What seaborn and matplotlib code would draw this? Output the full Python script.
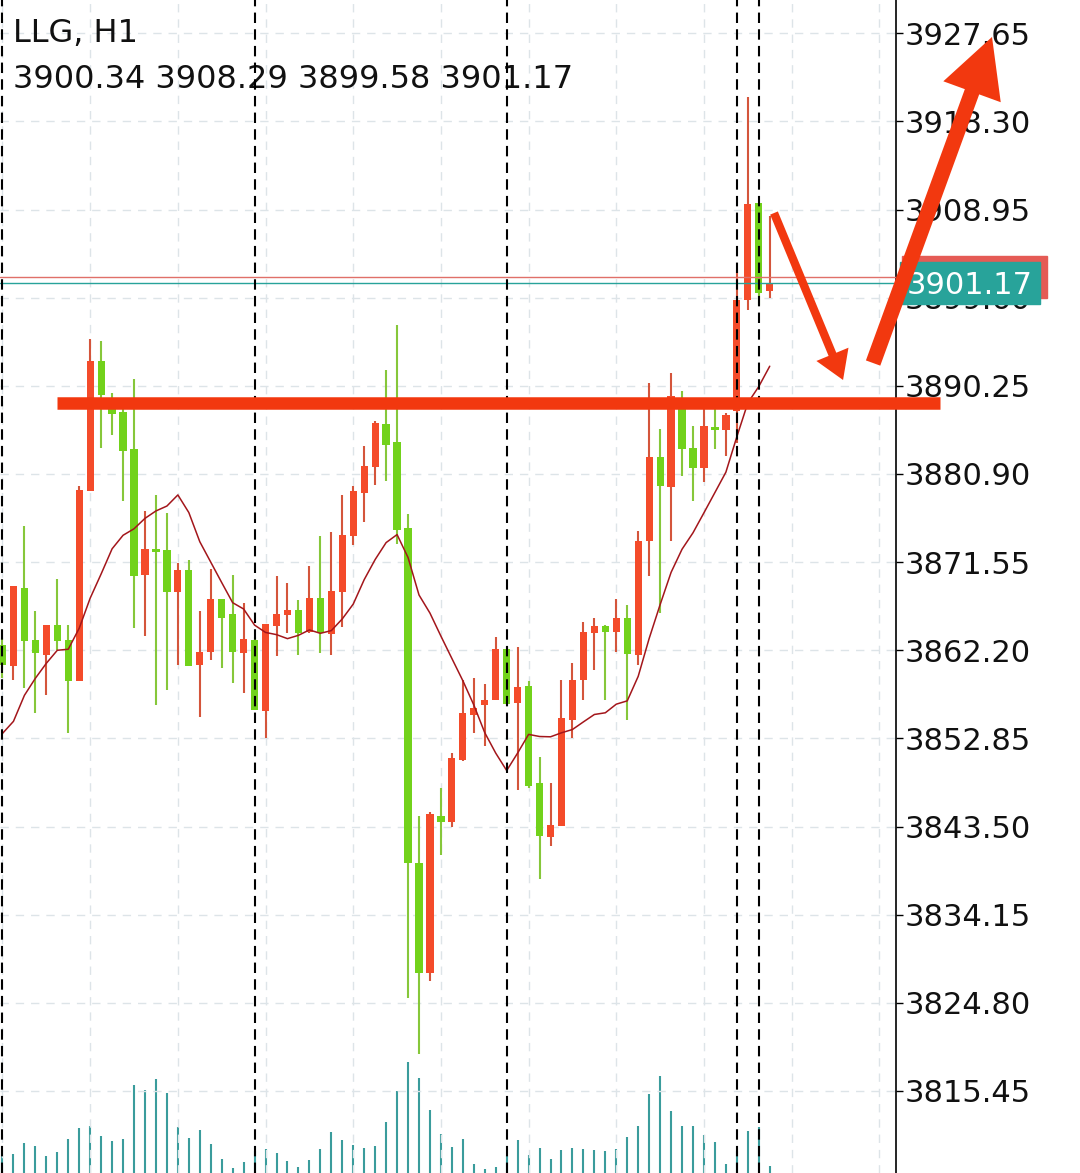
import numpy as np
import pandas as pd
import seaborn as sns
import matplotlib.pyplot as plt
import matplotlib.transforms as mtransforms
from matplotlib.patches import Rectangle

# LLG hourly candles
symbol = "LLG, H1"
opens = [3862.73, 3860.50, 3868.79, 3863.26, 3861.67, 3864.86, 3863.26, 3858.91, 3879.09, 3892.91,
         3888.13, 3887.49, 3883.56, 3870.17, 3872.93, 3872.83, 3868.36, 3870.70, 3860.61, 3861.99,
         3867.62, 3866.03, 3861.88, 3863.26, 3855.72, 3864.75, 3865.92, 3866.45, 3864.11, 3867.73,
         3863.90, 3868.36, 3874.31, 3878.88, 3881.64, 3886.21, 3884.30, 3875.16, 3839.68, 3827.99,
         3844.67, 3844.03, 3850.51, 3855.29, 3856.36, 3856.89, 3862.31, 3856.57, 3858.38, 3848.07,
         3842.44, 3843.61, 3854.76, 3859.01, 3864.01, 3864.75, 3864.11, 3865.60, 3861.67, 3873.78,
         3882.71, 3879.52, 3888.98, 3883.66, 3881.54, 3885.89, 3885.58, 3887.59, 3899.39, 3909.69,
         3900.34]
highs = [3863.48, 3869.00, 3875.38, 3866.34, 3864.86, 3869.74, 3864.86, 3879.63, 3895.24, 3895.03,
         3889.51, 3887.91, 3890.99, 3876.97, 3878.67, 3876.76, 3871.44, 3871.76, 3866.34, 3870.81,
         3867.62, 3870.17, 3867.19, 3863.58, 3864.96, 3870.06, 3869.32, 3867.51, 3871.13, 3874.31,
         3874.74, 3878.67, 3879.63, 3883.88, 3886.53, 3891.95, 3896.73, 3876.65, 3844.67, 3845.09,
         3847.64, 3851.26, 3859.01, 3859.23, 3858.59, 3863.58, 3862.52, 3862.52, 3858.91, 3850.83,
         3848.07, 3859.01, 3860.82, 3865.18, 3865.60, 3864.86, 3867.62, 3866.98, 3874.84, 3890.57,
         3885.68, 3891.63, 3889.72, 3886.00, 3888.66, 3887.91, 3887.38, 3902.58, 3920.85, 3909.69,
         3908.29]
lows = [3859.23, 3859.01, 3858.16, 3855.51, 3857.42, 3862.20, 3853.38, 3858.91, 3879.09, 3883.66,
        3885.04, 3878.03, 3864.54, 3863.69, 3856.36, 3857.95, 3860.61, 3860.50, 3855.08, 3861.14,
        3860.29, 3858.69, 3857.63, 3855.83, 3852.85, 3861.56, 3864.01, 3861.67, 3864.01, 3861.88,
        3861.67, 3864.64, 3873.36, 3875.80, 3879.73, 3880.16, 3873.46, 3825.33, 3819.38, 3827.14,
        3840.53, 3843.50, 3850.41, 3853.38, 3852.00, 3856.89, 3856.36, 3847.33, 3847.54, 3837.98,
        3841.48, 3843.61, 3852.85, 3856.89, 3860.08, 3856.89, 3861.99, 3854.76, 3860.61, 3870.06,
        3866.13, 3873.78, 3880.69, 3878.03, 3880.05, 3883.56, 3882.81, 3884.19, 3898.33, 3898.86,
        3899.58]
closes = [3860.61, 3869.00, 3863.16, 3861.88, 3864.86, 3863.16, 3858.91, 3879.20, 3892.91, 3889.29,
          3887.28, 3883.34, 3870.06, 3872.93, 3872.72, 3868.36, 3870.70, 3860.50, 3861.99, 3867.62,
          3865.60, 3861.99, 3863.37, 3855.83, 3864.96, 3866.03, 3866.45, 3864.01, 3867.73, 3864.01,
          3868.47, 3874.42, 3879.09, 3881.75, 3886.32, 3883.98, 3874.95, 3839.68, 3827.99, 3844.78,
          3844.03, 3850.73, 3855.51, 3856.04, 3856.89, 3862.31, 3856.46, 3858.27, 3847.75, 3842.54,
          3843.71, 3854.98, 3859.01, 3864.11, 3864.75, 3864.11, 3865.60, 3861.78, 3873.78, 3882.71,
          3879.63, 3889.19, 3883.56, 3881.54, 3886.00, 3885.58, 3887.17, 3899.39, 3909.59, 3900.13,
          3901.17]
volume = [52, 58, 91, 82, 52, 64, 103, 136, 142, 112,
          97, 103, 265, 250, 283, 241, 139, 106, 130, 88,
          43, 16, 33, 67, 73, 61, 37, 19, 40, 73,
          124, 100, 85, 76, 82, 154, 247, 334, 286, 190,
          118, 79, 103, 28, 13, 19, 52, 100, 55, 76,
          43, 70, 76, 73, 70, 67, 73, 109, 142, 238,
          292, 187, 142, 142, 115, 94, 28, 67, 127, 139,
          22]
# MA(10) for the first bars (earlier closes are off screen)
ma_head = [3853.38, 3854.66, 3857.42, 3859.23, 3860.82, 3862.20, 3862.31, 3864.54, 3867.73]

price_ticks = [3927.65, 3918.30, 3908.95, 3899.60, 3890.25, 3880.90, 3871.55,
               3862.20, 3852.85, 3843.50, 3834.15, 3824.80, 3815.45]
separators = [0, 23, 46, 67, 69]
bid = 3901.17
ask = 3901.81
support_level = 3888.43

red = "#F44B2A"
green = "#72D21B"
wick_red = "#D4553B"
wick_green = "#86C73A"
ma_color = "#A3161B"
mark_red = "#F2380F"
teal = "#28A39A"
vol_color = "#3A9C9C"

df = pd.DataFrame({"open": opens, "high": highs, "low": lows,
                   "close": closes, "volume": volume})
df["idx"] = np.arange(len(df))
df["ma"] = df["close"].rolling(10).mean()
df.loc[:len(ma_head) - 1, "ma"] = ma_head
up = df["close"] >= df["open"]
raw_h = (df["close"] - df["open"]).abs()
body_h = raw_h.clip(lower=0.3)
body_lo = np.minimum(df["open"], df["close"]) - (body_h - raw_h) / 2

sns.set_theme(style="white")
plt.rcParams['font.family'] = ['DejaVu Sans']

fig = plt.figure(figsize=(10.8, 11.73), dpi=100)
fig.patch.set_facecolor("white")
rect = [0, 0, 896 / 1080, 1]
ax_vol = fig.add_axes(rect)
ax = fig.add_axes(rect, sharex=ax_vol)
ax.set_zorder(2)
ax.patch.set_visible(False)
ax_vol.set_zorder(1)

# volume at the bottom
ax_vol.vlines(df["idx"], 0, df["volume"], color=vol_color, lw=1.5)
ax_vol.set_ylim(0, max(volume) * 1173 / 111.3)
ax_vol.axis("off")

# candles
ax.vlines(df["idx"], df["low"], df["high"],
          colors=np.where(up, wick_red, wick_green), lw=1.5, zorder=2)
ax.bar(df["idx"], body_h, bottom=body_lo, width=0.66,
       color=np.where(up, red, green), lw=0, zorder=3)

sns.lineplot(data=df, x="idx", y="ma", color=ma_color, lw=1.1, ax=ax, zorder=4)
ax.set_xlabel("")
ax.set_ylabel("")

for s in separators:
    ax.axvline(s, color="black", ls=(0, (5, 3)), lw=1.5, zorder=5)

ax.axhline(ask, color="#E07069", lw=1, zorder=4)
ax.axhline(bid, color=teal, lw=1, zorder=4)

ax.set_xlim(-0.228, 81.52)
ax.set_ylim(3806.75, 3931.18)
ax.set_xticks(np.arange(0, 82, 8))
ax.tick_params(axis="x", length=0, labelbottom=False)
ax.set_yticks(price_ticks)
ax.set_yticklabels([f"{t:.2f}" for t in price_ticks])
ax.yaxis.tick_right()
ax.tick_params(axis="y", right=True, length=5, width=1, color="black",
               labelsize=22, pad=1.5, labelcolor="#111111")
ax.grid(True, ls=(0, (6, 5)), color="#dde4e8", lw=1)
ax.set_axisbelow(True)
for side in ["left", "top", "bottom"]:
    ax.spines[side].set_visible(False)
ax.spines["right"].set_color("black")
ax.spines["right"].set_linewidth(1.2)

# price labels on the axis
trans = mtransforms.blended_transform_factory(ax.transAxes, ax.transData)
ax.add_patch(Rectangle((1.0067, ask - 2.2), 0.1618, 4.4, transform=trans,
                       clip_on=False, color="#E55B55", zorder=6))
ax.add_patch(Rectangle((1.0045, bid - 2.2), 0.1563, 4.4, transform=trans,
                       clip_on=False, color=teal, zorder=7))
ax.text(1.0045 + 0.1563 / 2, bid, f"{bid:.2f}", transform=trans, ha="center",
        va="center_baseline", color="white", fontsize=22, zorder=8, clip_on=False)

# hand-drawn marks
ax.plot([5, 85.5], [support_level, support_level], color=mark_red, lw=9,
        solid_capstyle="butt", clip_on=False, zorder=9)
ax.annotate("", xy=(76.69, 3890.87), xytext=(70.39, 3908.58),
            arrowprops=dict(arrowstyle="simple,head_length=1.0,head_width=1.25,tail_width=0.3",
                            mutation_scale=20, color=mark_red, lw=0, shrinkA=0, shrinkB=0),
            annotation_clip=False, zorder=10)
ax.annotate("", xy=(90.28, 3927.26), xytext=(79.43, 3892.67),
            arrowprops=dict(arrowstyle="simple,head_length=2.1,head_width=2.2,tail_width=0.55",
                            mutation_scale=20, color=mark_red, lw=0, shrinkA=0, shrinkB=0),
            annotation_clip=False, zorder=10)

# header
ax.text(13 / 896, 1 - 18 / 1173, symbol, transform=ax.transAxes, fontsize=23,
        ha="left", va="top", color="#111111")
ax.text(13 / 896, 1 - 64 / 1173,
        f"{opens[-1]:.2f} {highs[-1]:.2f} {lows[-1]:.2f} {closes[-1]:.2f}",
        transform=ax.transAxes, fontsize=23, ha="left", va="top", color="#111111")

fig.savefig("out.png", dpi=100, facecolor="white")
